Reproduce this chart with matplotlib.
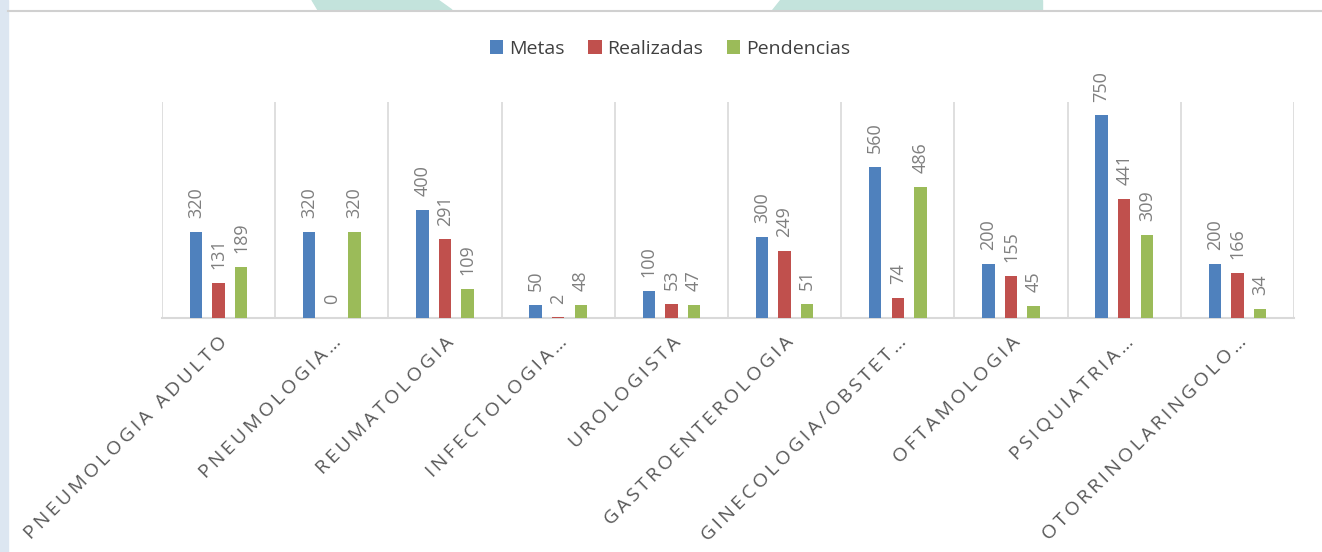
import numpy as np
import matplotlib.pyplot as plt
from matplotlib.patches import Polygon, Rectangle
from matplotlib.lines import Line2D

categorias = ['PNEUMOLOGIA ADULTO', 'PNEUMOLOGIA…', 'REUMATOLOGIA', 'INFECTOLOGIA…',
              'UROLOGISTA', 'GASTROENTEROLOGIA', 'GINECOLOGIA/OBSTET…', 'OFTAMOLOGIA',
              'PSIQUIATRIA…', 'OTORRINOLARINGOLO…']
metas = [320, 320, 400, 50, 100, 300, 560, 200, 750, 200]
realizadas = [131, 0, 291, 2, 53, 249, 74, 155, 441, 166]
pendencias = [189, 320, 109, 48, 47, 51, 486, 45, 309, 34]

series = [('Metas', metas, '#4F81BD'),
          ('Realizadas', realizadas, '#C0504D'),
          ('Pendencias', pendencias, '#9BBB59')]

plt.rcParams['font.family'] = ['Open Sans', 'DejaVu Sans']

fig = plt.figure(figsize=(13.22, 5.52), dpi=100)
W, H = 1322, 552

# fondo decorativo (marca de agua)
def px(pts):
    return [(x / W, 1 - y / H) for x, y in pts]

fig.patches.append(Polygon(px([(312, 0), (438, 0), (452, 10), (318, 10)]), closed=True,
                           transform=fig.transFigure, color='#C3E3DC', zorder=0))
fig.patches.append(Polygon(px([(780, 0), (1042, 0), (1042, 10), (772, 10)]), closed=True,
                           transform=fig.transFigure, color='#C3E3DC', zorder=0))
fig.patches.append(Rectangle((0, 0), 8 / W, 1, transform=fig.transFigure,
                             color='#DCE6F1', zorder=0))
fig.lines.append(Line2D([8 / W, 1], [1 - 11 / H] * 2, transform=fig.transFigure,
                        color='#D0D0D0', lw=1.5))

ax = fig.add_axes([162 / W, 1 - 318 / H, (1294 - 162) / W, (318 - 102) / H])

x = np.arange(len(categorias))
bw = 0.11
offs = [-0.2, 0, 0.2]
for (nome, vals, cor), off in zip(series, offs):
    ax.bar(x + off, vals, bw, color=cor, label=nome, zorder=3)
    for xi, v in zip(x, vals):
        ax.annotate(str(v), (xi + off, v), xytext=(0, 10), textcoords='offset points',
                    rotation=90, ha='center', va='bottom', fontsize=13, color='#7F7F7F')

ax.set_xlim(-0.5, len(categorias) - 0.5)
ax.set_ylim(0, 800)
ax.set_yticks([])
ax.set_xticks(x)
ax.set_xticklabels(['\u2009'.join(c) for c in categorias], rotation=45, ha='right',
                   rotation_mode='anchor', fontsize=14, color='#595959')
ax.tick_params(axis='x', length=0, pad=11)
for b in np.arange(-0.5, len(categorias), 1):
    ax.axvline(b, color='#D9D9D9', lw=1.2, zorder=1)
for s in ['top', 'left', 'right']:
    ax.spines[s].set_visible(False)
ax.spines['bottom'].set_color('#D9D9D9')
ax.spines['bottom'].set_linewidth(1.5)

fig.legend(loc='center', bbox_to_anchor=(670 / W, 1 - 49 / H), ncol=3, frameon=False,
           fontsize=14, handlelength=0.7, handleheight=0.7, handletextpad=0.3,
           columnspacing=1.2, labelcolor='#404040')

fig.savefig('out.png', dpi=100)
